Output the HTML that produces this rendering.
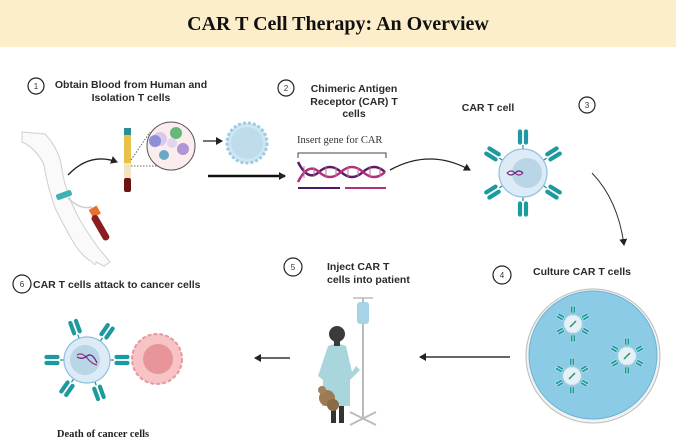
<!DOCTYPE html>
<html><head><meta charset="utf-8"><style>
html,body{margin:0;padding:0;background:#fff}
svg{display:block}
.t{font-family:"Liberation Sans",sans-serif;font-weight:bold;font-size:10.5px;fill:#2a2a2a}
.s{font-family:"Liberation Serif",serif;font-size:10.5px;fill:#333}
.n{font-family:"Liberation Sans",sans-serif;font-size:8px;fill:#333;text-anchor:middle}
</style></head><body>
<svg width="676" height="447" viewBox="0 0 676 447" xmlns="http://www.w3.org/2000/svg">
<defs>
<marker id="ah" markerWidth="8" markerHeight="8" refX="6" refY="4" orient="auto" markerUnits="userSpaceOnUse"><path d="M0,0 L7,4 L0,8 Z" fill="#222"/></marker>
<g id="rec">
<line x1="0" y1="0" x2="0" y2="-4" stroke="#1b8f92" stroke-width="1.2"/>
<rect x="-5.5" y="-20" width="5" height="16" rx="2.5" fill="#1c9aa0" stroke="#fff" stroke-width="0.8"/>
<rect x="0.5" y="-20" width="5" height="16" rx="2.5" fill="#1c9aa0" stroke="#fff" stroke-width="0.8"/>
</g>
<g id="mini">
<g transform="rotate(0)"><use href="#rec" transform="translate(0,-9) scale(0.45)"/></g>
<g transform="rotate(60)"><use href="#rec" transform="translate(0,-9) scale(0.45)"/></g>
<g transform="rotate(120)"><use href="#rec" transform="translate(0,-9) scale(0.45)"/></g>
<g transform="rotate(180)"><use href="#rec" transform="translate(0,-9) scale(0.45)"/></g>
<g transform="rotate(240)"><use href="#rec" transform="translate(0,-9) scale(0.45)"/></g>
<g transform="rotate(300)"><use href="#rec" transform="translate(0,-9) scale(0.45)"/></g>
<circle r="9" fill="#e4f1f6" stroke="#c5dde6"/>
<path d="M-3,3 L3,-3" stroke="#3a8a6a" stroke-width="1.5"/>
</g>
</defs>
<rect x="0" y="0" width="676" height="45" fill="#fdeecb"/>
<rect x="0" y="45" width="676" height="2" fill="#fdeecb"/>
<text x="338" y="30" text-anchor="middle" font-family="Liberation Serif,serif" font-weight="bold" font-size="20" fill="#111">CAR T Cell Therapy: An Overview</text>

<!-- step 1 -->
<circle cx="36" cy="86" r="8" fill="none" stroke="#222" stroke-width="1.2"/><text class="n" x="36" y="89">1</text>
<text class="t" x="131" y="88" text-anchor="middle">Obtain Blood from Human and</text>
<text class="t" x="131" y="101" text-anchor="middle">Isolation T cells</text>
<!-- arm -->
<path d="M22,132 L45,134 Q60,150 62,170 Q66,195 80,220 Q92,240 100,250 L110,262 L104,266 L96,262 Q96,267 92,262 Q82,256 75,245 Q66,230 56,210 Q48,190 44,165 Q36,148 22,142 Z" fill="#fafafa" stroke="#cfcfcf" stroke-width="1"/>
<rect x="56" y="192" width="16" height="6" rx="2" fill="#3bb3b5" transform="rotate(-20 64 195)"/>
<path d="M68,198 Q80,210 92,207" stroke="#ccc" fill="none" stroke-width="1.5"/>
<rect x="90" y="207" width="9" height="9" fill="#e87030" transform="rotate(-30 95 211)"/>
<rect x="97" y="214" width="7" height="28" rx="3" fill="#8b1c22" transform="rotate(-30 100 228)"/>
<path d="M68,175 Q90,152 117,162" stroke="#222" fill="none" stroke-width="1.3" marker-end="url(#ah)"/>
<!-- tube -->
<rect x="124" y="128" width="7" height="7" fill="#2a8f96"/>
<rect x="124" y="135" width="7" height="28" fill="#e9c24a"/>
<rect x="124" y="163" width="7" height="15" fill="#f3e3c2"/>
<rect x="124" y="178" width="7" height="14" rx="2" fill="#6a1416"/>
<line x1="131" y1="160" x2="150" y2="132" stroke="#666" stroke-dasharray="1.5,1.5"/>
<line x1="131" y1="166" x2="160" y2="166" stroke="#666" stroke-dasharray="1.5,1.5"/>
<circle cx="171" cy="146" r="24" fill="#fbecee" stroke="#555" stroke-width="1"/>
<circle cx="160" cy="139" r="7" fill="#d8c8ea"/><circle cx="155" cy="141" r="6" fill="#8e8ed8"/>
<circle cx="176" cy="133" r="6" fill="#66b87a"/><circle cx="183" cy="149" r="6" fill="#b293d6"/>
<circle cx="172" cy="143" r="5" fill="#e0d4ee"/>
<circle cx="164" cy="155" r="5" fill="#69a8c4"/>
<path d="M203,141 L222,141" stroke="#222" stroke-width="1.3" marker-end="url(#ah)"/>
<circle cx="247" cy="143" r="20" fill="#cfe6f3" stroke="#9ccbe4" stroke-width="3" stroke-dasharray="3,2"/>
<circle cx="247" cy="143" r="16" fill="#bfdcec"/>
<path d="M208,176 L285,176" stroke="#111" stroke-width="2.5" marker-end="url(#ah)"/>

<!-- step 2 -->
<circle cx="286" cy="88" r="8" fill="none" stroke="#222" stroke-width="1.2"/><text class="n" x="286" y="91">2</text>
<text class="t" x="354" y="92" text-anchor="middle">Chimeric Antigen</text>
<text class="t" x="354" y="105" text-anchor="middle">Receptor (CAR) T</text>
<text class="t" x="354" y="117" text-anchor="middle">cells</text>
<text class="s" x="297" y="143">Insert gene for CAR</text>
<path d="M298,158 L298,153 L386,153 L386,158" stroke="#444" fill="none"/>
<path d="M298,162 Q308,182 319,172 T341,172 T363,172 T385,172" stroke="#5a1a6a" fill="none" stroke-width="2.5"/>
<path d="M298,182 Q308,162 319,172 T341,172 T363,172 T385,172" stroke="#b0307a" fill="none" stroke-width="2.5"/>
<g stroke="#c070a0" stroke-width="1"><line x1="304" y1="166" x2="304" y2="178"/><line x1="314" y1="167" x2="314" y2="177"/><line x1="326" y1="166" x2="326" y2="178"/><line x1="336" y1="167" x2="336" y2="177"/><line x1="348" y1="166" x2="348" y2="178"/><line x1="358" y1="167" x2="358" y2="177"/><line x1="370" y1="166" x2="370" y2="178"/><line x1="380" y1="167" x2="380" y2="177"/></g>
<line x1="298" y1="188" x2="340" y2="188" stroke="#4a1a6a" stroke-width="2"/>
<line x1="345" y1="188" x2="386" y2="188" stroke="#b0307a" stroke-width="2"/>
<path d="M390,170 Q430,148 470,170" stroke="#222" fill="none" stroke-width="1.3" marker-end="url(#ah)"/>

<!-- step 3 -->
<text class="t" x="488" y="111" text-anchor="middle">CAR T cell</text>
<circle cx="587" cy="105" r="8" fill="none" stroke="#222" stroke-width="1.2"/><text class="n" x="587" y="108">3</text>
<g transform="translate(523,173)">
<g transform="rotate(0)"><use href="#rec" transform="translate(0,-24)"/></g>
<g transform="rotate(-58)"><use href="#rec" transform="translate(0,-24)"/></g>
<g transform="rotate(58)"><use href="#rec" transform="translate(0,-24)"/></g>
<g transform="rotate(-122)"><use href="#rec" transform="translate(0,-24)"/></g>
<g transform="rotate(122)"><use href="#rec" transform="translate(0,-24)"/></g>
<g transform="rotate(180)"><use href="#rec" transform="translate(0,-24)"/></g>
<circle r="24" fill="#dcebf5" stroke="#8ec0e0" stroke-width="1.2"/>
<circle cx="4" cy="0" r="15" fill="#b9d6e7"/>
<path d="M-16,0 Q-12,-4 -8,0 T0,0" stroke="#a0307a" fill="none" stroke-width="1.2"/>
<path d="M-16,0 Q-12,4 -8,0 T0,0" stroke="#5a2a8a" fill="none" stroke-width="1.2"/>
</g>
<path d="M592,173 Q618,200 624,245" stroke="#333" fill="none" stroke-width="1" marker-end="url(#ah)"/>

<!-- step 4 -->
<circle cx="502" cy="275" r="9" fill="none" stroke="#222" stroke-width="1.2"/><text class="n" x="502" y="278">4</text>
<text class="t" x="533" y="275">Culture CAR T cells</text>
<circle cx="593" cy="356" r="67" fill="#f2f2f2" stroke="#bbb" stroke-width="1"/>
<circle cx="593" cy="355" r="64" fill="#8ccbe6" stroke="#6ab3d6" stroke-width="1"/>
<use href="#mini" transform="translate(573,324)"/>
<use href="#mini" transform="translate(572,376)"/>
<use href="#mini" transform="translate(627,356)"/>
<path d="M510,357 L420,357" stroke="#333" stroke-width="1.5" marker-end="url(#ah)"/>

<!-- step 5 -->
<circle cx="293" cy="267" r="9" fill="none" stroke="#222" stroke-width="1.2"/><text class="n" x="293" y="270">5</text>
<text class="t" x="327" y="270">Inject  CAR T</text>
<text class="t" x="327" y="283">cells into patient</text>
<line x1="363" y1="298" x2="363" y2="418" stroke="#bbb" stroke-width="2"/>
<line x1="353" y1="298" x2="373" y2="298" stroke="#bbb" stroke-width="1.5"/>
<rect x="357" y="302" width="12" height="22" rx="3" fill="#a7d3e6"/>
<path d="M350,425 L376,412 M350,412 L376,425" stroke="#bbb" stroke-width="2"/>
<rect x="331" y="385" width="5" height="38" fill="#333"/><rect x="339" y="385" width="5" height="38" fill="#333"/>
<path d="M328,346 Q337,342 346,346 L352,372 L356,366 L360,370 L350,380 L350,406 L322,406 L323,380 L318,376 Z" fill="#a8d6dc"/>
<circle cx="337" cy="334" r="8" fill="#3b3b3b"/>
<rect x="334" y="340" width="6" height="6" fill="#3b3b3b"/>
<circle cx="327" cy="398" r="8" fill="#9c7a55"/><circle cx="333" cy="405" r="6" fill="#8b6a48"/><circle cx="322" cy="390" r="4" fill="#a4805a"/>
<path d="M290,358 L255,358" stroke="#333" stroke-width="1.5" marker-end="url(#ah)"/>

<!-- step 6 -->
<circle cx="22" cy="284" r="9" fill="none" stroke="#222" stroke-width="1.2"/><text class="n" x="22" y="287">6</text>
<text class="t" x="33" y="288">CAR T cells attack to cancer cells</text>
<g transform="translate(87,360)">
<g transform="rotate(-20)"><use href="#rec" transform="translate(0,-23)"/></g>
<g transform="rotate(35)"><use href="#rec" transform="translate(0,-23)"/></g>
<g transform="rotate(-90)"><use href="#rec" transform="translate(0,-23)"/></g>
<g transform="rotate(90)"><use href="#rec" transform="translate(0,-23)"/></g>
<g transform="rotate(-145)"><use href="#rec" transform="translate(0,-23)"/></g>
<g transform="rotate(160)"><use href="#rec" transform="translate(0,-23)"/></g>
<circle r="23" fill="#dcebf5" stroke="#8ec0e0" stroke-width="1.2"/>
<circle cx="-2" cy="0" r="15" fill="#b9d6e7"/>
<path d="M-10,-5 Q-5,-8 0,-2 T10,5" stroke="#a0307a" fill="none" stroke-width="1.3"/>
<path d="M-10,-3 Q-5,0 0,-4 T10,3" stroke="#5a2a8a" fill="none" stroke-width="1.3"/>
</g>
<circle cx="157" cy="359" r="25" fill="#f7c3c5" stroke="#e5999e" stroke-width="2" stroke-dasharray="4,2"/>
<circle cx="158" cy="359" r="15" fill="#e7959b"/>
<text x="103" y="437" text-anchor="middle" font-family="Liberation Serif,serif" font-weight="bold" font-size="10.5" fill="#222">Death of cancer cells</text>
</svg>
</body></html>
